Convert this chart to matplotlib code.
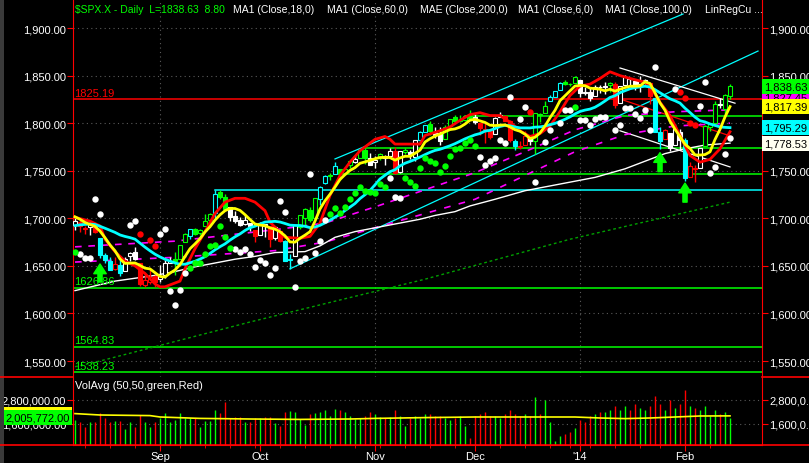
import matplotlib
matplotlib.use("Agg")
import matplotlib.pyplot as plt
import matplotlib.transforms as mtransforms
from matplotlib.lines import Line2D
from matplotlib.patches import Rectangle
import pandas as pd

plt.rcParams['font.family'] = ['Liberation Sans', 'DejaVu Sans']

# trading days shown on the chart
holidays = ['2013-09-02', '2013-11-28', '2013-12-25', '2014-01-01', '2014-01-20']
dates = pd.bdate_range('2013-08-08', '2014-02-14').drop(pd.to_datetime(holidays))
month_names = ['Sep', 'Oct', 'Nov', 'Dec', "'14", 'Feb']

# closes before the first bar (for the short moving averages)
pre_closes = [1682.50, 1676.26, 1680.91, 1689.37, 1692.09, 1695.53, 1692.39, 1685.94, 1690.25,
              1691.65, 1685.33, 1685.96, 1685.73, 1706.87, 1709.67, 1707.14, 1697.37, 1690.91]

opens = [1693.35, 1696.10, 1688.37, 1690.65, 1693.88, 1679.61, 1661.22, 1655.25, 1646.81, 1650.66,
         1645.03, 1659.92, 1664.29, 1652.54, 1630.25, 1633.50, 1638.89, 1635.95, 1640.72, 1653.28,
         1657.44, 1656.85, 1675.11, 1681.04, 1689.21, 1685.04, 1691.70, 1697.73, 1705.05, 1727.34,
         1722.44, 1711.44, 1702.60, 1698.02, 1694.05, 1695.52, 1687.26, 1682.41, 1691.90, 1692.35,
         1678.79, 1687.15, 1676.22, 1656.99, 1660.88, 1691.09, 1699.86, 1709.17, 1700.49, 1720.17,
         1736.72, 1745.20, 1746.48, 1752.27, 1747.48, 1756.01, 1759.42, 1762.93, 1772.27, 1763.24,
         1758.70, 1763.40, 1765.67, 1765.00, 1770.74, 1748.37, 1769.96, 1769.51, 1764.37, 1782.75,
         1790.66, 1798.82, 1790.79, 1789.59, 1783.52, 1797.21, 1806.33, 1802.87, 1803.48, 1808.01,
         1806.55, 1800.10, 1794.15, 1792.82, 1788.36, 1806.21, 1807.60, 1802.76, 1781.71, 1776.01,
         1777.48, 1786.47, 1781.46, 1809.00, 1810.39, 1822.92, 1828.02, 1834.96, 1842.97, 1841.47,
         1842.61, 1845.86, 1833.21, 1832.31, 1828.71, 1837.90, 1839.00, 1840.06, 1841.26, 1821.36,
         1840.52, 1847.99, 1844.23, 1841.05, 1844.71, 1842.29, 1826.96, 1791.03, 1783.00, 1790.15,
         1777.17, 1790.88, 1782.68, 1743.82, 1753.38, 1752.99, 1776.01, 1796.20, 1800.45, 1820.12,
         1814.82, 1828.46]
highs = [1700.18, 1699.42, 1691.49, 1696.81, 1695.52, 1679.61, 1663.60, 1659.18, 1658.92, 1656.99,
         1659.55, 1664.85, 1669.51, 1652.54, 1641.18, 1646.41, 1640.08, 1651.35, 1655.72, 1659.17,
         1664.83, 1672.40, 1684.09, 1689.13, 1689.97, 1688.73, 1704.95, 1705.52, 1729.44, 1729.86,
         1725.23, 1711.44, 1707.63, 1701.71, 1703.85, 1695.52, 1687.26, 1696.55, 1693.87, 1692.35,
         1691.94, 1687.15, 1676.79, 1662.47, 1692.56, 1703.44, 1711.03, 1711.57, 1721.76, 1733.45,
         1745.31, 1747.79, 1759.33, 1752.27, 1753.94, 1759.82, 1764.99, 1772.09, 1775.22, 1768.53,
         1765.67, 1768.78, 1767.03, 1773.74, 1774.54, 1770.78, 1773.44, 1771.78, 1782.00, 1791.53,
         1798.22, 1802.33, 1795.51, 1795.73, 1798.15, 1804.84, 1808.10, 1808.42, 1808.27, 1813.55,
         1810.02, 1800.10, 1799.80, 1792.82, 1806.04, 1811.52, 1808.52, 1802.97, 1782.99, 1780.88,
         1792.22, 1786.77, 1811.08, 1810.88, 1823.75, 1829.75, 1833.32, 1842.84, 1844.89, 1842.47,
         1849.44, 1845.86, 1838.24, 1837.16, 1840.10, 1840.02, 1843.23, 1843.15, 1843.45, 1839.26,
         1850.84, 1847.99, 1846.04, 1849.31, 1846.87, 1842.29, 1826.96, 1795.98, 1793.87, 1790.15,
         1798.77, 1793.88, 1784.83, 1758.73, 1755.79, 1774.06, 1798.03, 1799.94, 1823.54, 1826.55,
         1830.25, 1841.65]
lows = [1687.36, 1686.02, 1683.35, 1682.62, 1684.83, 1658.59, 1652.61, 1646.08, 1646.08, 1639.43,
        1645.03, 1654.81, 1656.02, 1629.05, 1627.47, 1630.88, 1628.05, 1633.41, 1637.41, 1653.07,
        1640.62, 1656.85, 1675.11, 1678.70, 1681.96, 1682.22, 1691.70, 1697.73, 1700.35, 1720.20,
        1708.89, 1697.10, 1694.90, 1691.88, 1693.11, 1687.11, 1674.99, 1682.07, 1680.34, 1670.36,
        1677.33, 1674.70, 1655.03, 1646.47, 1660.88, 1688.52, 1692.13, 1695.93, 1700.49, 1714.12,
        1735.74, 1740.67, 1746.48, 1740.50, 1745.50, 1752.45, 1757.67, 1762.93, 1757.24, 1755.72,
        1752.70, 1761.56, 1755.76, 1764.40, 1746.20, 1747.63, 1767.85, 1762.29, 1760.64, 1780.22,
        1790.66, 1788.00, 1784.72, 1777.23, 1783.52, 1794.70, 1800.58, 1800.77, 1802.77, 1803.98,
        1798.60, 1787.85, 1779.09, 1783.38, 1788.36, 1806.21, 1801.75, 1780.09, 1772.28, 1772.45,
        1777.48, 1777.05, 1767.99, 1801.35, 1810.25, 1822.92, 1828.02, 1834.96, 1839.81, 1838.77,
        1842.41, 1827.74, 1829.13, 1823.73, 1828.71, 1831.40, 1830.38, 1832.43, 1815.52, 1821.36,
        1840.52, 1840.30, 1835.23, 1832.38, 1840.88, 1820.06, 1790.29, 1772.88, 1783.00, 1770.45,
        1777.17, 1772.26, 1739.66, 1743.82, 1737.92, 1752.99, 1776.01, 1791.83, 1800.41, 1815.97,
        1809.22, 1825.59]
closes = [1697.48, 1691.42, 1689.47, 1694.16, 1685.39, 1661.32, 1655.83, 1646.06, 1652.35, 1642.80,
          1656.96, 1663.50, 1656.78, 1630.48, 1634.96, 1638.17, 1632.97, 1639.77, 1653.08, 1655.08,
          1655.17, 1671.71, 1683.99, 1689.13, 1683.42, 1687.99, 1697.60, 1704.76, 1725.52, 1722.34,
          1709.91, 1701.84, 1697.42, 1692.77, 1698.67, 1691.75, 1681.55, 1695.00, 1693.87, 1678.66,
          1690.50, 1676.12, 1655.45, 1656.40, 1692.56, 1703.20, 1710.14, 1698.06, 1721.54, 1733.15,
          1744.50, 1744.66, 1754.67, 1746.38, 1752.07, 1759.77, 1762.11, 1771.95, 1763.31, 1756.54,
          1761.64, 1767.93, 1762.97, 1770.49, 1747.15, 1770.61, 1771.89, 1767.69, 1782.00, 1790.62,
          1798.18, 1791.53, 1787.87, 1781.37, 1795.85, 1804.76, 1802.48, 1802.75, 1807.23, 1805.81,
          1800.90, 1795.15, 1792.81, 1785.03, 1805.09, 1808.37, 1802.62, 1782.22, 1775.50, 1775.32,
          1786.54, 1781.00, 1810.65, 1809.60, 1818.32, 1827.99, 1833.32, 1842.02, 1841.40, 1841.07,
          1848.36, 1831.98, 1831.37, 1826.77, 1837.88, 1837.49, 1838.13, 1842.37, 1819.20, 1838.88,
          1848.38, 1845.89, 1838.70, 1843.80, 1844.86, 1828.46, 1790.29, 1781.56, 1792.50, 1774.20,
          1794.19, 1782.59, 1741.89, 1755.20, 1751.64, 1773.43, 1797.02, 1799.84, 1819.75, 1819.26,
          1829.83, 1838.63]

# paint-bar colour of each candle (w=white, r=red, g=green, c=cyan)
bar_colors = ("wrrwrcccrcwwwrrrr" + "wwwgggcggggcggwwwwwr" + "wwrwrccwggggccgcgggwggw" +
              "wgwwrwgwwccgwwgggggg" + "wrrrwwrrcrrwgggcccggg" + "wwwwwwgrwwwwwwrccrwww" +
              "crrwgggwgg")

# volume in millions
volume = [1.82, 1.68, 1.47, 1.68, 1.68, 2.13, 1.90, 1.68, 1.74, 1.74, 1.35, 1.72, 1.47, 2.07, 1.68,
          1.47, 1.68, 1.90, 2.13, 1.68, 1.82, 2.13, 1.90, 1.90, 1.90, 1.47, 1.74, 1.74, 2.30, 2.13,
          2.72, 1.90, 1.96, 1.96, 1.72, 1.68, 1.90, 1.90, 1.96, 1.96, 1.65, 1.51, 2.18, 2.26, 2.18,
          1.84, 1.56, 2.10, 2.13, 2.18, 2.30, 1.98, 2.35, 2.30, 2.18, 1.98, 1.84, 1.90, 1.98, 2.18,
          2.10, 1.93, 1.90, 1.93, 2.32, 2.00, 1.50, 1.90, 2.00, 1.90, 2.10, 2.10, 2.00, 2.00, 1.90,
          1.80, 1.90, 2.00, 1.50, 0.90, 2.00, 2.10, 2.20, 2.00, 2.00, 1.90, 2.10, 2.30, 2.10, 2.00,
          2.10, 2.00, 2.95, 2.10, 2.80, 1.70, 0.75, 1.00, 1.10, 1.20, 1.40, 1.80, 1.70, 2.00, 2.10,
          2.20, 2.20, 2.30, 2.50, 2.30, 2.50, 2.30, 2.60, 2.40, 2.30, 2.50, 3.00, 2.60, 2.30, 2.80,
          2.40, 2.60, 3.30, 2.50, 2.40, 2.30, 2.50, 2.00, 2.30, 2.10, 2.20, 1.90]

# indicator lines (bar index, value)
red_idx = [0, 3, 5, 6, 8, 10, 12, 14, 16, 17, 18, 20, 21, 22, 24, 26, 28, 30, 32, 34, 36, 38, 39,
           42, 45, 47, 49, 51, 53, 55, 57, 58, 60, 62, 63, 64, 67, 69, 70, 73, 75, 77, 79, 81, 83,
           85, 87, 89, 91, 93, 95, 97, 99, 101, 103, 105, 107, 109, 111, 114, 115, 117, 119, 121,
           123, 125, 127, 129, 131]
red_val = [1701, 1697, 1692, 1678, 1665, 1655, 1650, 1642, 1631, 1628, 1628, 1632, 1634, 1647, 1668,
           1686, 1705, 1717, 1721, 1721, 1717, 1708, 1696, 1680, 1679, 1681, 1695, 1724, 1745, 1759,
           1771, 1775, 1783, 1786, 1783, 1778, 1778, 1778, 1787, 1792, 1796, 1803, 1809, 1811, 1808,
           1808, 1801, 1792, 1786, 1789, 1797, 1812, 1829, 1839, 1841, 1847, 1854, 1850, 1847, 1843,
           1839, 1822, 1808, 1787, 1766, 1759, 1762, 1773, 1791]
ma100_idx = [0, 4, 8, 12, 16, 20, 24, 28, 32, 36, 40, 46, 49, 52, 56, 59, 62, 66, 69, 72, 76, 79,
             84, 90, 97, 104, 110, 113, 118, 122, 126, 131]
ma100_val = [1624, 1629, 1634, 1637, 1640, 1644, 1649, 1653, 1657, 1660, 1664, 1665, 1671, 1680,
             1686, 1689, 1692, 1696, 1699, 1703, 1707, 1713, 1720, 1729, 1736, 1743, 1752, 1758,
             1768, 1773, 1777, 1779]
ma200_idx = [0, 5, 35, 70, 99, 131]
ma200_val = [1544, 1550, 1591, 1636, 1678, 1717]
mag1_idx = [0, 20, 40, 50, 60, 70, 80, 90, 100, 110, 120, 131]
mag1_val = [1670, 1676, 1688, 1695, 1712, 1730, 1748, 1770, 1793, 1808, 1812, 1814]
mag2_idx = [0, 20, 40, 50, 60, 70, 80, 90, 100, 110, 120, 131]
mag2_val = [1654, 1659, 1666, 1675, 1690, 1705, 1720, 1745, 1770, 1788, 1797, 1800]
volavg_idx = [0, 5, 15, 17, 25, 35, 45, 55, 60, 70, 80, 90, 100, 105, 110, 115, 120, 125, 131]
volavg_val = [2.12, 2.05, 2.02, 1.95, 1.88, 1.85, 1.83, 1.85, 1.88, 1.92, 1.95, 1.95, 1.95, 1.90,
              1.87, 1.90, 1.95, 2.00, 2.006]

# trend lines (start idx, start value, end idx, end value)
cyan_upper = (52, 1762.4, 121.6, 1914.7)
cyan_lower = (43, 1646.9, 136.6, 1875.8)
white_upper = (109, 1858, 132, 1821)
white_lower = (109, 1792, 131, 1754)
red_trend = (109, 1825.4, 131, 1786.6)

# horizontal levels (value, colour, start idx, labelled)
levels = [(1825.19, '#ff0000', -1, True), (1626.86, '#00ff00', -1, True),
          (1564.83, '#00ff00', -1, True), (1538.23, '#00ff00', -1, True),
          (1807.6, '#00ff00', 78, False), (1774.0, '#00ff00', 58, False),
          (1746.7, '#00ff00', 53, False), (1730.0, '#00ffff', 28, False)]

# dots (bar index, price)
white_dots = [(4, 1720), (5, 1705), (11, 1693), (12, 1697), (17, 1684), (18, 1689), (1, 1662),
              (2, 1658), (3, 1658), (19, 1624), (21, 1625), (20, 1609), (22, 1643), (32, 1668),
              (33, 1665), (34, 1668), (35, 1663), (36, 1649), (37, 1656), (38, 1653), (39, 1640),
              (40, 1648), (41, 1718), (42, 1707), (44, 1628), (45, 1655), (46, 1658), (47, 1747),
              (48, 1664), (49, 1676), (50, 1698), (63, 1742), (64, 1722), (65, 1721), (81, 1764),
              (82, 1756), (83, 1760), (84, 1763), (85, 1782), (86, 1779), (87, 1828), (89, 1804),
              (90, 1817), (92, 1738), (94, 1780), (95, 1793), (97, 1800), (98, 1814), (99, 1814),
              (101, 1803), (102, 1803), (103, 1798), (104, 1804), (105, 1807), (106, 1807),
              (108, 1793), (109, 1798), (110, 1816), (111, 1816), (112, 1810), (113, 1805),
              (114, 1814), (115, 1793), (116, 1859), (120, 1836), (125, 1818), (126, 1843),
              (127, 1748), (128, 1754), (130, 1768), (131, 1784)]
red_dots = [(13, 1683), (15, 1677), (16, 1671), (91, 1812), (121, 1833), (122, 1826), (123, 1800),
            (124, 1798)]
green_dots = [(0, 1665), (23, 1648), (24, 1653), (25, 1653), (26, 1663), (27, 1671), (28, 1672),
              (29, 1692), (30, 1680), (31, 1669), (51, 1705), (52, 1711), (53, 1706), (54, 1712),
              (55, 1720), (56, 1727), (57, 1733), (58, 1729), (59, 1728), (60, 1727), (61, 1736),
              (62, 1733), (66, 1742), (67, 1738), (68, 1734), (69, 1753), (70, 1763), (71, 1760),
              (72, 1758), (73, 1749), (74, 1755), (75, 1766), (76, 1773), (77, 1774), (78, 1779),
              (79, 1782), (80, 1776), (100, 1817)]
# buy arrows (bar index, tip, tail)
arrows = [(5, 1652, 1633), (117, 1769, 1749), (122, 1737, 1717)]

# right axis value boxes (value, colour) in drawing order
price_boxes = [(1827.45, '#ff00ff'), (1817.39, '#ffff00'), (1838.63, '#00ff00'),
               (1795.29, '#00ffff'), (1778.53, '#fffff0')]

COL = {'w': '#ffffff', 'r': '#ff0000', 'g': '#00ff00', 'c': '#00ffff'}
W, H = 809, 464


def fx(px):
    return px / W


def fy(py):
    return 1 - py / H


fig = plt.figure(figsize=(8.09, 4.64), dpi=100, facecolor='black')
ax = fig.add_axes([fx(73), fy(378), (762 - 73) / W, 378 / H], facecolor='black')
axv = fig.add_axes([fx(73), fy(446), (762 - 73) / W, (446 - 378) / H], facecolor='black')

xs = list(range(len(closes)))
ax.set_xlim(-0.4, 137.4)
axv.set_xlim(-0.4, 137.4)
ax.set_ylim(1533.2, 1930.5)
axv.set_ylim(0.55, 3.95)

month_idx = [i for i in range(1, len(dates)) if dates[i].month != dates[i - 1].month]
week_idx = [i for i in range(1, len(dates)) if dates[i].weekday() < dates[i - 1].weekday()]

# grid
grid_kw = dict(color='#5a5a5a', lw=0.8, ls=(0, (1, 3)), zorder=0)
for v in range(1550, 1901, 50):
    ax.axhline(v, **grid_kw)
for i in (month_idx[0], month_idx[2], month_idx[4]):
    ax.axvline(i, **grid_kw)
for v in (1.6, 2.8):
    axv.axhline(v, **grid_kw)

# horizontal levels
for val, c, start, lab in levels:
    x0 = -0.4 if start < 0 else start
    ax.plot([x0, 137.4], [val, val], color=c, lw=1.1, zorder=1)
    if lab:
        ax.text(-0.1, val + 1.5, '%.2f' % val, color=c, fontsize=8, va='bottom', ha='left')

# trend lines
for (x0, y0, x1, y1), c in [(cyan_upper, '#00ffff'), (cyan_lower, '#00ffff'),
                            (white_upper, '#ffffff'), (white_lower, '#ffffff'),
                            (red_trend, '#ff0000')]:
    ax.plot([x0, x1], [y0, y1], color=c, lw=0.9, zorder=2)

# moving averages
all_close = pd.Series(pre_closes + closes)
ma6 = all_close.rolling(6).mean().iloc[len(pre_closes):].values
ma18 = all_close.rolling(18).mean().iloc[len(pre_closes):].values

ax.plot(ma200_idx, ma200_val, color='#00a000', lw=1.0, ls=(0, (2, 2)), zorder=2)
ax.plot(mag1_idx, mag1_val, color='#ff00ff', lw=1.2, ls=(0, (4, 4)), zorder=2)
ax.plot(mag2_idx, mag2_val, color='#ff00ff', lw=1.2, ls=(0, (4, 5)), zorder=2)
ax.plot(ma100_idx, ma100_val, color='#ffffff', lw=1.0, zorder=2)

# candles
for i in xs:
    o, h, l, c = opens[i], highs[i], lows[i], closes[i]
    col = COL[bar_colors[i]]
    ax.vlines(i, l, h, color=col, lw=1.0, zorder=3)
    up = c >= o
    ax.add_patch(Rectangle((i - 0.32, min(o, c)), 0.64, max(abs(c - o), 0.4),
                           facecolor='black' if up else col, edgecolor=col, lw=0.8, zorder=4))

ax.plot(red_idx, red_val, color='#ff0000', lw=2.0, zorder=5)
ax.plot(xs, ma18, color='#00ffff', lw=2.0, zorder=5)
ax.plot(xs, ma6, color='#ffff00', lw=2.0, zorder=6)

# dots
for pts, c in [(white_dots, '#ffffff'), (red_dots, '#ff0000'), (green_dots, '#00ff00')]:
    ax.plot([p[0] for p in pts], [p[1] for p in pts], 'o', color=c, ms=4.6, mew=0, zorder=7)

for i, tip, tail in arrows:
    ax.annotate('', xy=(i, tip), xytext=(i, tail), zorder=8,
                arrowprops=dict(arrowstyle='simple,head_width=0.9,head_length=0.7,tail_width=0.3',
                                color='#00ff00', mutation_scale=10, shrinkA=0, shrinkB=0))

# price axes styling
for a in (ax, axv):
    for s in a.spines.values():
        s.set_color('#ff0000')
    a.spines['top'].set_visible(False)
ax.spines['bottom'].set_visible(False)
ax.set_xticks([])
ax.set_yticks(range(1550, 1901, 50))
ax.set_yticklabels(['{:,.2f}'.format(v) for v in range(1550, 1901, 50)])
ax.tick_params(axis='y', colors='#ff0000', labelcolor='white', labelsize=8, length=4, pad=1)
axr = ax.twinx()
axr.set_ylim(ax.get_ylim())
axr.set_yticks(range(1550, 1901, 50))
axr.set_yticklabels(['{:,.2f}'.format(v) for v in range(1550, 1901, 50)])
axr.tick_params(axis='y', colors='#ff0000', labelcolor='white', labelsize=8, length=4, pad=1)
for s in axr.spines.values():
    s.set_visible(False)

# value boxes drawn on the right-hand axes so they cover its tick labels
blend = mtransforms.blended_transform_factory(axr.transAxes, axr.transData)
for val, c in price_boxes:
    axr.text(1.003, val, '{:,.2f}'.format(val), transform=blend, color='black', fontsize=8,
             va='center', ha='left', clip_on=False, zorder=10,
             bbox=dict(facecolor=c, edgecolor='none', boxstyle='square,pad=0.22'))

# volume panel
for i in xs:
    prev = closes[i - 1] if i > 0 else pre_closes[-1]
    vc = '#00ff00' if closes[i] >= prev else '#ff0000'
    axv.vlines(i, 0.55, volume[i], color=vc, lw=1.0, zorder=3)
axv.plot(volavg_idx, volavg_val, color='#ffff00', lw=1.2, zorder=4)
axv.text(0.0, 3.55, 'VolAvg (50,50,green,Red)', color='white', fontsize=8, va='center')
axv.set_yticks([1.6, 2.8])
axv.set_yticklabels(['1,600,000.00', '2,800,000.00'])
axv.tick_params(axis='y', colors='#ff0000', labelcolor='white', labelsize=8, length=4, pad=1)
axv.set_xticks(month_idx)
axv.set_xticklabels(month_names)
axv.set_xticks(week_idx, minor=True)
axv.tick_params(axis='x', which='major', colors='#ff0000', labelcolor='white', labelsize=8,
                length=4, pad=0)
axv.tick_params(axis='x', which='minor', colors='#ff0000', length=2.5)
axvr = axv.twinx()
axvr.set_ylim(axv.get_ylim())
axvr.set_yticks([1.6, 2.8])
axvr.set_yticklabels(['1,600,0...', '2,800,0...'])
axvr.tick_params(axis='y', colors='#ff0000', labelcolor='white', labelsize=8, length=4, pad=1)
for s in axvr.spines.values():
    s.set_visible(False)
vblend = mtransforms.blended_transform_factory(axv.transAxes, axv.transData)
axv.text(-0.004, 2.07, '2,005,772.00', transform=vblend, color='#ffff00', fontsize=8, va='center',
         ha='right', clip_on=False, zorder=9,
         bbox=dict(facecolor='#ffff00', edgecolor='none', boxstyle='square,pad=0.2'))
axv.text(-0.004, 1.93, '2,005,772.00', transform=vblend, color='black', fontsize=8, va='center',
         ha='right', clip_on=False, zorder=10,
         bbox=dict(facecolor='#00ff00', edgecolor='none', boxstyle='square,pad=0.2'))

# frame lines in the axis areas
for x0, x1, y0, y1 in [(0, 73, 378, 378), (762, 809, 378, 378), (0, 809, 446, 446)]:
    fig.add_artist(Line2D([fx(x0), fx(x1)], [fy(y0), fy(y1)], color='#ff0000', lw=1.2))
fig.add_artist(Rectangle((0, 0), fx(4), 1, facecolor='#3a3a3a', edgecolor='none'))

# header
header = [(75, '$SPX.X - Daily  L=1838.63  8.80', '#00ff00'), (233, 'MA1 (Close,18,0)', 'white'),
          (327, 'MA1 (Close,60,0)', 'white'), (420, 'MAE (Close,200,0)', 'white'),
          (518, 'MA1 (Close,6,0)', 'white'), (605, 'MA1 (Close,100,0)', 'white'),
          (705, 'LinRegCu ...', 'white')]
for px, txt, c in header:
    fig.text(fx(px), fy(10), txt, color=c, fontsize=7.5, va='center', ha='left')

fig.savefig('out.png', dpi=100, facecolor='black')
